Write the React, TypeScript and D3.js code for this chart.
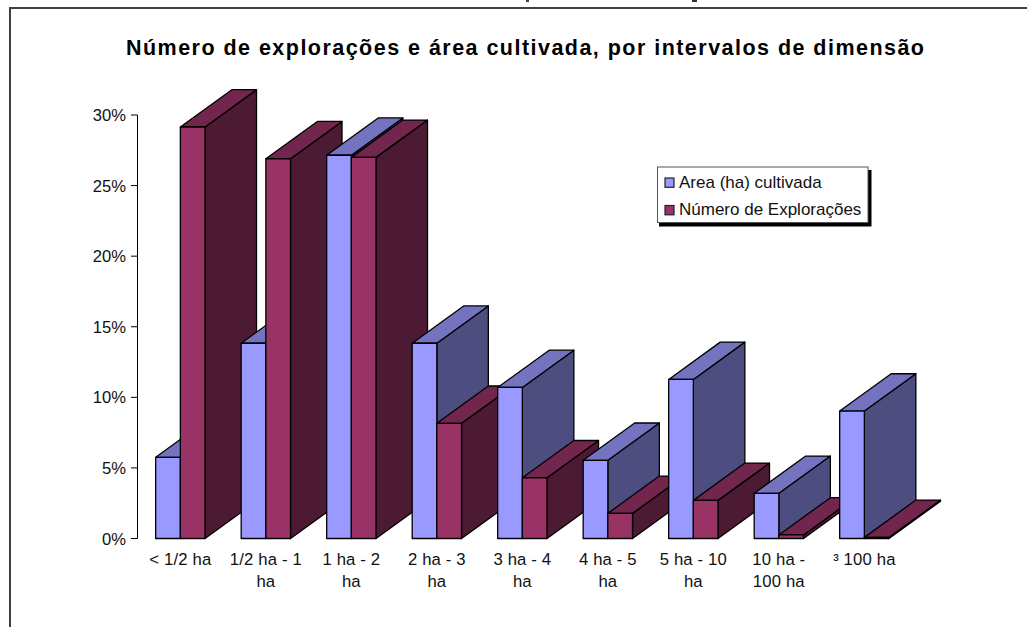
import React from "react";
import * as d3 from "d3";

const W = 1027;
const H = 627;
const titleText = "Número de explorações e área cultivada, por intervalos de dimensão";
const categories = ["< 1/2 ha", "1/2 ha - 1 ha", "1 ha - 2 ha", "2 ha - 3 ha", "3 ha - 4 ha", "4 ha - 5 ha", "5 ha - 10 ha", "10 ha - 100 ha", "³ 100 ha"];
const categoryLines = [["< 1/2 ha"], ["1/2 ha - 1", "ha"], ["1 ha - 2", "ha"], ["2 ha - 3", "ha"], ["3 ha - 4", "ha"], ["4 ha - 5", "ha"], ["5 ha - 10", "ha"], ["10 ha -", "100 ha"], ["³ 100 ha"]];
const seriesNames = ["Area (ha) cultivada", "Número de Explorações"];
const areaValues = [5.75, 13.83, 27.15, 13.83, 10.7, 5.54, 11.27, 3.2, 9.03];
const exploracoesValues = [29.15, 26.9, 27.0, 8.16, 4.3, 1.78, 2.7, 0.25, 0.08];
const yTicks = [0, 5, 10, 15, 20, 25, 30];
const frontColors = ["#9999FF", "#993366"];
const topColors = ["#7373BF", "#73264D"];
const sideColors = ["#4D4D80", "#4D1A33"];

const DX = 51.5;
const DY = 37.3;
const FONT = "'Liberation Sans', Arial, sans-serif";

const y = d3.scaleLinear().domain([0, 30]).range([538.5, 115]);
const x0 = d3.scaleBand<string>().domain(categories).range([137.6, 907.1]).paddingInner(0.423).paddingOuter(0.2115);
const x1 = d3.scaleBand<string>().domain(seriesNames).range([0, x0.bandwidth()]);
const seriesValues = [areaValues, exploracoesValues];

const poly = (pts: [number, number][]) => {
  const p = d3.path();
  pts.forEach(([a, b], i) => (i ? p.lineTo(a, b) : p.moveTo(a, b)));
  p.closePath();
  return p.toString();
};

export default function App() {
  const bars = categories.flatMap((c, ci) =>
    seriesNames.map((s, si) => {
      const l = (x0(c) as number) + (x1(s) as number);
      const r = l + x1.bandwidth();
      const t = y(seriesValues[si][ci]);
      const b = y(0);
      return (
        <g key={c + s} stroke="#000" strokeWidth={1.3} strokeLinejoin="round">
          <path d={poly([[r, t], [r + DX, t - DY], [r + DX, b - DY], [r, b]])} fill={sideColors[si]} />
          <path d={poly([[l, t], [l + DX, t - DY], [r + DX, t - DY], [r, t]])} fill={topColors[si]} />
          <path d={poly([[l, t], [r, t], [r, b], [l, b]])} fill={frontColors[si]} />
        </g>
      );
    })
  );
  return (
    <svg width={W} height={H} viewBox={`0 0 ${W} ${H}`} style={{ position: "absolute", left: 0, top: 0, background: "#fff" }} fontFamily={FONT}>
      <rect x={0} y={0} width={W} height={H} fill="#fff" />
      <rect x={526} y={0} width={3} height={2} fill="#444" />
      <rect x={692} y={0} width={5} height={2} fill="#333" />
      <path d={`M10,${H}V8H${W}`} fill="none" stroke="#404040" strokeWidth={2} />
      <text x={525} y={55} textAnchor="middle" fontSize={21.5} fontWeight={700} fill="#000" textLength={798} lengthAdjust="spacing">{titleText}</text>

      <line x1={137.5} x2={137.5} y1={y(30)} y2={y(0)} stroke="#000" strokeWidth={1} />
      {yTicks.map((t) => (
        <g key={t}>
          <line x1={131} x2={137.5} y1={y(t)} y2={y(t)} stroke="#000" strokeWidth={1} />
          <text x={126} y={y(t) + 6} textAnchor="end" fontSize={16.6} fill="#111">{`${t}%`}</text>
        </g>
      ))}

      {bars}

      {categories.map((c, ci) => (
        <text key={c} textAnchor="middle" fontSize={16.7} letterSpacing={0.15} fill="#111">
          {categoryLines[ci].map((line, li) => (
            <tspan key={li} x={(x0(c) as number) + x0.bandwidth() / 2} y={565 + li * 21.7}>{line}</tspan>
          ))}
        </text>
      ))}

      <rect x={659} y={170} width={212.5} height={56.5} fill="#000" />
      <rect x={657.5} y={167} width={210.5} height={55.5} fill="#fff" stroke="#555" strokeWidth={1} />
      {seriesNames.map((s, si) => (
        <g key={s}>
          <rect x={665} y={178 + si * 27.5} width={9} height={9.3} fill={frontColors[si]} stroke="#222" strokeWidth={1.2} />
          <text x={679} y={187.5 + si * 27.5} fontSize={17} fill="#111">{s}</text>
        </g>
      ))}
    </svg>
  );
}
